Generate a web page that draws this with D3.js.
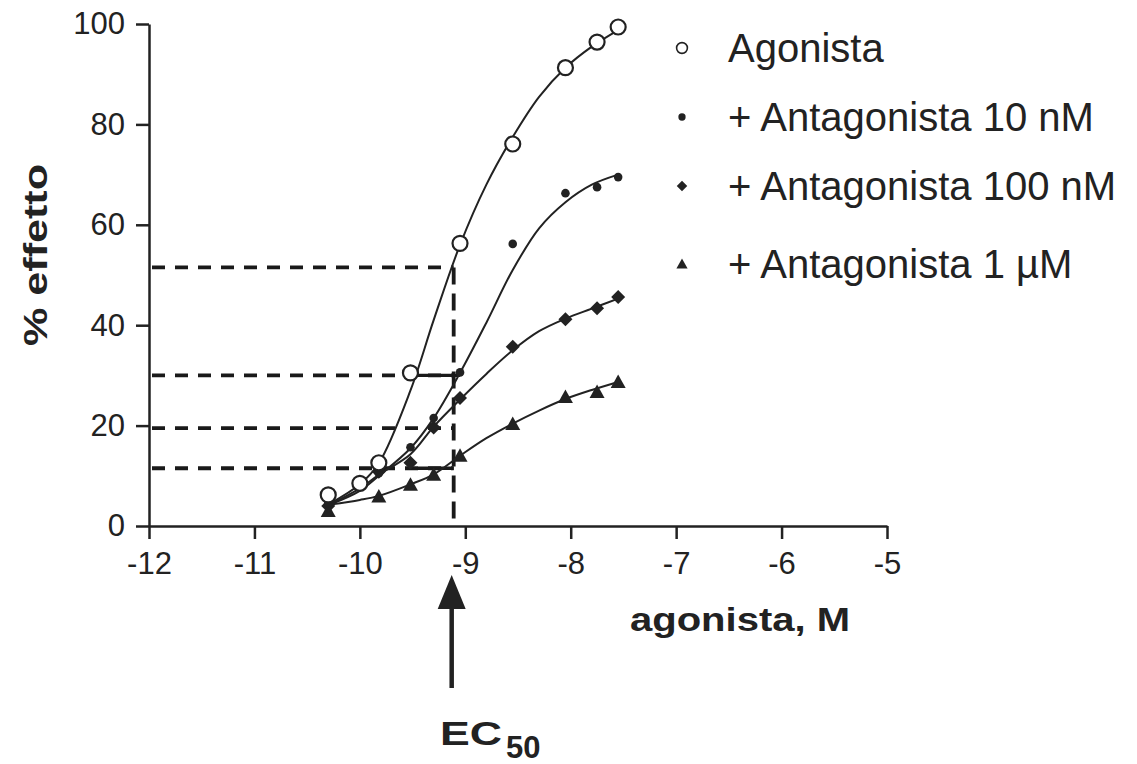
<!DOCTYPE html>
<html lang="it">
<head>
<meta charset="UTF-8">
<title>Curve dose-risposta</title>
<script src="https://d3js.org/d3.v7.min.js"></script>
<style>
    body { margin: 0; background: #fff; }
    svg { display: block; font-family: "Liberation Sans", Arial, sans-serif; }
    .axis path, .axis line { stroke: #222; stroke-width: 2.5; }
    .axis text { font-size: 31px; fill: #222; }
</style>
</head>
<body>
<div id="chart"></div>
<script>
// log concentrazione agonista (M)
var xAgonista = [-10.3, -10.0, -9.82, -9.52, -9.05, -8.55, -8.05, -7.75, -7.55];
var yAgonista = [6.2, 8.5, 12.6, 30.5, 56.3, 76.1, 91.3, 96.4, 99.4];

var xAntag = [-10.3, -9.82, -9.52, -9.3, -9.05, -8.55, -8.05, -7.75, -7.55];
var yAnt10nM = [4.5, 10.5, 15.7, 21.5, 30.6, 56.2, 66.3, 67.5, 69.5];
var yAnt100nM = [4.0, 10.8, 12.6, 19.6, 25.5, 35.7, 41.2, 43.4, 45.6];
var yAnt1uM = [3.0, 5.9, 8.2, 10.2, 14.0, 20.3, 25.7, 26.7, 28.7];

// curve di fit
var fitX = [-10.28, -10.0, -9.82, -9.52, -9.3, -9.05, -8.8, -8.55, -8.3, -8.05, -7.8, -7.55];
var fitAgonista = [4.5, 8.3, 12.5, 27, 41, 56, 68, 77.5, 85.5, 91.3, 95.5, 98.8];
var fit10nM = [4.3, 7, 10, 15.5, 21.5, 30.5, 40.5, 51, 59.3, 64.5, 68, 70];
var fit100nM = [4.3, 7.5, 10.2, 14.3, 19.8, 25.2, 30.3, 35, 38.8, 41.3, 43.3, 45.3];
var fit1uM = [4.3, 5.2, 6.0, 8.3, 10.3, 14, 17.5, 20.4, 23, 25.3, 27.1, 28.7];

var legendLabels = ['Agonista', '+ Antagonista 10 nM', '+ Antagonista 100 nM', '+ Antagonista 1 \u00b5M'];
var xTicks = [-12, -11, -10, -9, -8, -7, -6, -5];
var yTicks = [0, 20, 40, 60, 80, 100];

// linee di riferimento EC50
var ec50 = -9.11;
var refLevels = [51.5, 30, 19.5, 11.5];
var solidSegs = [[30, -9.52, -9.05], [11.5, -9.45, -9.11]];

var w = 1137, h = 764;
var svg = d3.select('#chart').append('svg').attr('width', w).attr('height', h);

var x = d3.scaleLinear().domain([-12, -5]).range([149, 887]);
var y = d3.scaleLinear().domain([0, 100]).range([526, 24]);

svg.append('g').attr('class', 'axis')
    .attr('transform', 'translate(0,' + y(0) + ')')
    .call(d3.axisBottom(x).tickValues(xTicks).tickSize(13).tickSizeOuter(0).tickPadding(13)
        .tickFormat(function(d){ return String(d); }));

svg.append('g').attr('class', 'axis')
    .attr('transform', 'translate(' + x(-12) + ',0)')
    .call(d3.axisLeft(y).tickValues(yTicks).tickSize(13).tickSizeOuter(0).tickPadding(11));

// tratteggi
var ref = svg.append('g').attr('stroke', '#1a1a1a').attr('fill', 'none');
ref.selectAll('line.h').data(refLevels).enter().append('line')
    .attr('x1', x(-12) + 3).attr('x2', x(ec50))
    .attr('y1', function(d){ return y(d); }).attr('y2', function(d){ return y(d); })
    .attr('stroke-width', 3.8).attr('stroke-dasharray', '13,10');
ref.append('line')
    .attr('x1', x(ec50)).attr('x2', x(ec50))
    .attr('y1', y(refLevels[0])).attr('y2', y(0))
    .attr('stroke-width', 3.8).attr('stroke-dasharray', '17,9');
ref.selectAll('line.s').data(solidSegs).enter().append('line')
    .attr('x1', function(d){ return x(d[1]); }).attr('x2', function(d){ return x(d[2]); })
    .attr('y1', function(d){ return y(d[0]); }).attr('y2', function(d){ return y(d[0]); })
    .attr('stroke-width', 3.4);

// curve
var line = d3.line().x(function(d){ return x(d[0]); }).y(function(d){ return y(d[1]); })
    .curve(d3.curveCatmullRom.alpha(0.5));
[fitAgonista, fit10nM, fit100nM, fit1uM].forEach(function(f){
    svg.append('path')
        .attr('d', line(fitX.map(function(v, i){ return [v, f[i]]; })))
        .attr('fill', 'none').attr('stroke', '#222').attr('stroke-width', 2);
});

// marker
function drawSymbol(g, type, cx, cy, s) {
    if (type === 0) {
        g.append('circle').attr('cx', cx).attr('cy', cy).attr('r', 7.5 * s)
            .attr('fill', '#fff').attr('stroke', '#222').attr('stroke-width', 2.2 * s);
    } else if (type === 1) {
        g.append('circle').attr('cx', cx).attr('cy', cy).attr('r', 4.3 * s).attr('fill', '#222');
    } else if (type === 2) {
        var r = 7 * s;
        g.append('path').attr('fill', '#222')
            .attr('d', 'M' + cx + ',' + (cy - r) + 'L' + (cx + r) + ',' + cy + 'L' + cx + ',' + (cy + r) + 'L' + (cx - r) + ',' + cy + 'Z');
    } else {
        var a = 7.5 * s;
        g.append('path').attr('fill', '#222')
            .attr('d', 'M' + cx + ',' + (cy - a) + 'L' + (cx + a) + ',' + (cy + a * 0.8) + 'L' + (cx - a) + ',' + (cy + a * 0.8) + 'Z');
    }
}

var pts = svg.append('g');
var series = [[xAgonista, yAgonista], [xAntag, yAnt10nM], [xAntag, yAnt100nM], [xAntag, yAnt1uM]];
for (var k = 3; k >= 0; k--) {
    series[k][0].forEach(function(v, i){
        drawSymbol(pts, k, x(v), y(series[k][1][i]), 1);
    });
}

// legenda
var legY = [48, 117, 186, 264];
var legend = svg.append('g');
var legScale = [0.72, 0.85, 0.75, 0.75];
legendLabels.forEach(function(t, i){
    drawSymbol(legend, i, 682, legY[i], legScale[i]);
    legend.append('text').attr('x', 728).attr('y', legY[i] + 14)
        .attr('font-size', 40).attr('fill', '#222').text(t);
});

// titoli assi
svg.append('text')
    .attr('transform', 'translate(47,255) rotate(-90)')
    .attr('text-anchor', 'middle').attr('font-size', 34).attr('font-weight', 'bold')
    .attr('fill', '#222').attr('textLength', 182).attr('lengthAdjust', 'spacingAndGlyphs')
    .text('% effetto');

svg.append('text')
    .attr('x', 630).attr('y', 631)
    .attr('font-size', 33).attr('font-weight', 'bold').attr('fill', '#222')
    .attr('textLength', 220).attr('lengthAdjust', 'spacingAndGlyphs')
    .text('agonista, M');

// freccia EC50
var ax = x(ec50) - 2;
svg.append('line').attr('x1', ax).attr('x2', ax).attr('y1', 688).attr('y2', 600)
    .attr('stroke', '#222').attr('stroke-width', 4.5);
svg.append('path').attr('fill', '#222')
    .attr('d', 'M' + ax + ',575L' + (ax + 14) + ',609L' + (ax - 14) + ',609Z');

var ecText = svg.append('text').attr('x', 440).attr('y', 745)
    .attr('font-size', 33).attr('font-weight', 'bold').attr('fill', '#222');
ecText.append('tspan').attr('textLength', 62).attr('lengthAdjust', 'spacingAndGlyphs').text('EC');
ecText.append('tspan').attr('x', 506).attr('dy', 13).attr('font-size', 31).text('50');
</script>
</body>
</html>
